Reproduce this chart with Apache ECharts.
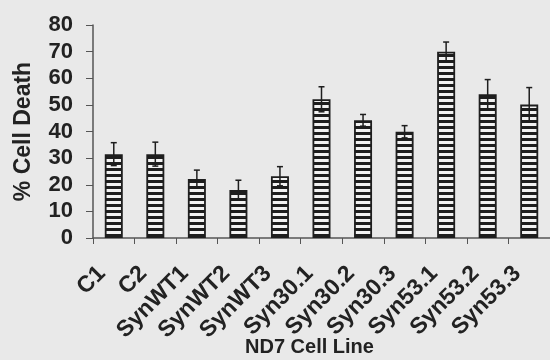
<!DOCTYPE html>
<html><head><meta charset="utf-8">
<script src="https://cdn.jsdelivr.net/npm/echarts@6/dist/echarts.min.js"></script>
<style>html,body{margin:0;padding:0;background:#e9e9e9}#c{width:550px;height:360px}</style>
</head><body><div id="c"></div>
<script>
const categories = ['C1','C2','SynWT1','SynWT2','SynWT3','Syn30.1','Syn30.2','Syn30.3','Syn53.1','Syn53.2','Syn53.3'];
const cellDeath = [31.5, 31.5, 22.2, 18.0, 23.2, 52.1, 44.2, 39.9, 70.0, 54.0, 50.1];
const errors = [4.3, 4.5, 3.3, 3.7, 3.6, 4.7, 2.2, 2.3, 3.6, 5.5, 6.4];
const yTicks = [0,10,20,30,40,50,60,70,80];

const pc = document.createElement('canvas');
pc.width = 4; pc.height = 6;
const g = pc.getContext('2d');
g.fillStyle = '#f2f2f2'; g.fillRect(0,0,4,6);
g.fillStyle = '#1e1e1e'; g.fillRect(0,0,4,3);

const font = 'Liberation Sans, Arial, sans-serif';
const chart = echarts.init(document.getElementById('c'), null, {renderer:'canvas'});
chart.setOption({
  backgroundColor: '#e9e9e9',
  animation: false,
  grid: {left: 93, top: 25, width: 460, height: 213, containLabel: false},
  xAxis: {
    type: 'category', data: categories,
    axisLine: {lineStyle: {color: '#555', width: 1.5}},
    axisTick: {show: true, length: 6, lineStyle: {color: '#555'}},
    axisLabel: {interval: 0, hideOverlap: false, rotate: 45, margin: 20, padding: [0, 17, 0, 0], color: '#222', fontSize: 23, fontWeight: 'bold', fontFamily: font}
  },
  yAxis: {
    type: 'value', min: yTicks[0], max: yTicks[yTicks.length-1], interval: 10,
    name: '% Cell Death', nameLocation: 'middle', nameGap: 58,
    nameTextStyle: {color: '#222', fontSize: 23, fontWeight: 'bold', fontFamily: font},
    axisLine: {show: true, lineStyle: {color: '#555', width: 1.5}},
    axisTick: {show: true, length: 7, lineStyle: {color: '#555'}},
    splitLine: {show: false},
    axisLabel: {margin: 20, color: '#222', fontSize: 22, fontWeight: 'bold', fontFamily: font}
  },
  graphic: [{type: 'text', left: 245, top: 337, style: {text: 'ND7 Cell Line', fill: '#222', font: 'bold 20px ' + font}}],
  series: [
    {type: 'bar', data: cellDeath, barWidth: 18,
     itemStyle: {color: {image: pc, repeat: 'repeat'}, borderColor: '#1e1e1e', borderWidth: 1.8}},
    {type: 'custom', data: cellDeath.map((v,i)=>[i, v, errors[i]]), z: 10,
     renderItem: function(params, api){
       const i = api.value(0), v = api.value(1), e = api.value(2);
       const top = api.coord([i, v+e]), bot = api.coord([i, v-e]);
       const s = {stroke: '#1e1e1e', lineWidth: 1.5};
       return {type:'group', children:[
         {type:'line', shape:{x1:top[0],y1:top[1],x2:bot[0],y2:bot[1]}, style:s},
         {type:'line', shape:{x1:top[0]-3,y1:top[1],x2:top[0]+3,y2:top[1]}, style:s},
         {type:'line', shape:{x1:bot[0]-3,y1:bot[1],x2:bot[0]+3,y2:bot[1]}, style:s}
       ]};
     }}
  ]
});
</script></body></html>
